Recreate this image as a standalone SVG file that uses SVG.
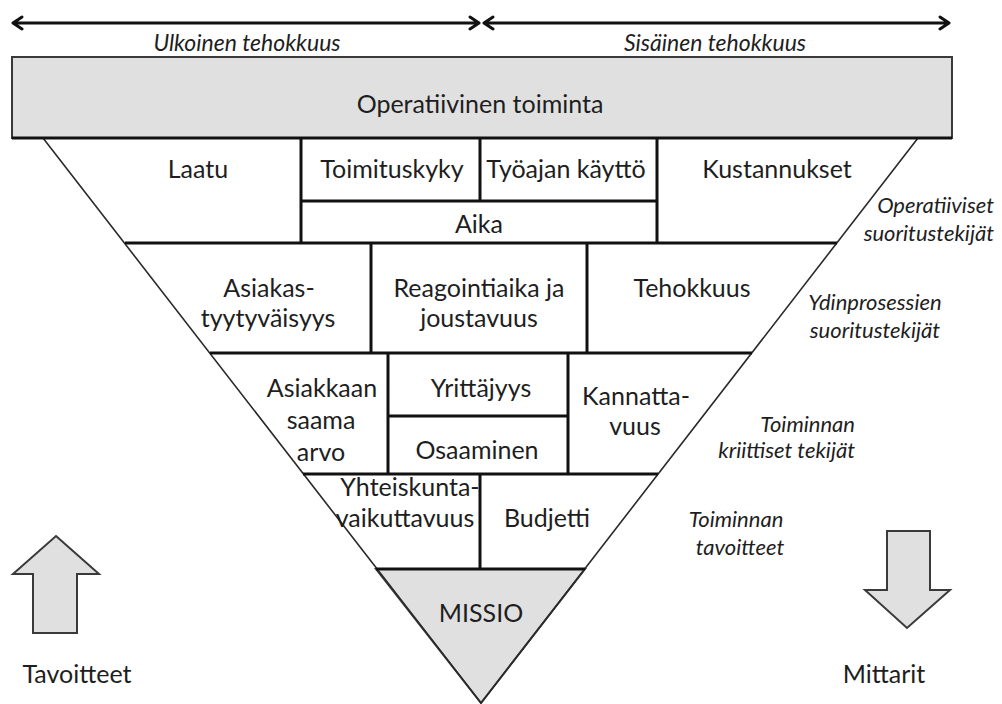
<svg xmlns="http://www.w3.org/2000/svg" width="1002" height="704" viewBox="0 0 1002 704">
  <style>
    .t { font-family: Lato, "Open Sans", "Liberation Sans", sans-serif; font-size: 25px; fill: #1e1e1e; text-anchor: middle; }
    .i { font-family: Lato, "Open Sans", "Liberation Sans", sans-serif; font-size: 22px; font-style: italic; fill: #1e1e1e; }
    .top { font-size: 23px; }
    .mid { text-anchor: middle; }
    .end { text-anchor: end; }
    .edge { stroke: #2a2a2a; stroke-width: 1.6; fill: none; }
    .rule { stroke: #111; stroke-width: 3; fill: none; }
    .gray { fill: #e0e0e0; stroke: #3a3a3a; stroke-width: 2; }
    .dbl { stroke: #111; stroke-width: 3; fill: none; stroke-linecap: round; stroke-linejoin: round; }
  </style>

  <rect width="1002" height="704" fill="#fff"/>

  <!-- span arrows above the banner -->
  <g id="connectors">
    <path class="dbl" d="M13,23 H479 M22,17 L13,23 L22,29 M470,17 L479,23 L470,29"/>
    <path class="dbl" d="M484,23 H949 M493,17 L484,23 L493,29 M940,17 L949,23 L940,29"/>
  </g>
  <text class="i top mid" x="247" y="51">Ulkoinen tehokkuus</text>
  <text class="i top mid" x="715" y="51">Sisäinen tehokkuus</text>

  <!-- banner -->
  <g id="operatiivinen-toiminta">
    <rect class="gray" x="12" y="57" width="940" height="81"/>
    <text class="t" x="480" y="113">Operatiivinen toiminta</text>
  </g>

  <!-- mission tip -->
  <g id="missio">
    <polygon class="gray" stroke-width="1.6" points="376,569 585,569 481,703"/>
    <text class="t" x="481" y="622">MISSIO</text>
  </g>

  <!-- funnel outline and cell rules -->
  <g id="funnel">
    <path class="edge" d="M43,138 L481,703 L918,138"/>
    <path class="rule" d="M12,138 H952"/>
    <path class="rule" d="M125,243 H837 M210,353 H752 M303,474 H658 M376,569 H585"/>
    <path class="rule" d="M301,138 V243 M657,138 V243 M480,138 V201 M301,201 H657"/>
    <path class="rule" d="M371,243 V353 M587,243 V353"/>
    <path class="rule" d="M388,353 V474 M568,353 V474 M388,416 H568"/>
    <path class="rule" d="M480,474 V569"/>
  </g>

  <!-- row 1: operational performance factors -->
  <g id="laatu"><text class="t" x="198" y="178">Laatu</text></g>
  <g id="toimituskyky"><text class="t" x="392" y="178">Toimituskyky</text></g>
  <g id="tyoajan-kaytto"><text class="t" x="566" y="178">Työajan käyttö</text></g>
  <g id="kustannukset"><text class="t" x="777" y="178">Kustannukset</text></g>
  <g id="aika"><text class="t" x="479" y="233">Aika</text></g>

  <!-- row 2: core process factors -->
  <g id="asiakastyytyvaisyys">
    <text class="t" x="269" y="297">Asiakas-</text>
    <text class="t" x="268" y="327">tyytyväisyys</text>
  </g>
  <g id="reagointiaika">
    <text class="t" x="479" y="297">Reagointiaika ja</text>
    <text class="t" x="479" y="327">joustavuus</text>
  </g>
  <g id="tehokkuus"><text class="t" x="692" y="297">Tehokkuus</text></g>

  <!-- row 3: critical factors -->
  <g id="asiakkaan-saama-arvo">
    <text class="t" x="322" y="397">Asiakkaan</text>
    <text class="t" x="321" y="429">saama</text>
    <text class="t" x="321" y="461">arvo</text>
  </g>
  <g id="yrittajyys"><text class="t" x="481" y="397">Yrittäjyys</text></g>
  <g id="osaaminen"><text class="t" x="477" y="459">Osaaminen</text></g>
  <g id="kannattavuus">
    <text class="t" x="636" y="405">Kannatta-</text>
    <text class="t" x="635" y="435">vuus</text>
  </g>

  <!-- row 4: objectives -->
  <g id="yhteiskuntavaikuttavuus">
    <text class="t" x="410" y="496">Yhteiskunta-</text>
    <text class="t" x="405" y="527">vaikuttavuus</text>
  </g>
  <g id="budjetti"><text class="t" x="547" y="527">Budjetti</text></g>

  <!-- level captions on the right -->
  <g id="caption-operatiiviset">
    <text class="i end" x="994" y="213">Operatiiviset</text>
    <text class="i end" x="994" y="241">suoritustekijät</text>
  </g>
  <g id="caption-ydinprosessit">
    <text class="i mid" x="875" y="310">Ydinprosessien</text>
    <text class="i mid" x="875" y="338">suoritustekijät</text>
  </g>
  <g id="caption-kriittiset">
    <text class="i end" x="855" y="432">Toiminnan</text>
    <text class="i end" x="855" y="458">kriittiset tekijät</text>
  </g>
  <g id="caption-tavoitteet">
    <text class="i mid" x="736" y="527">Toiminnan</text>
    <text class="i mid" x="740" y="555">tavoitteet</text>
  </g>

  <!-- direction arrows -->
  <g id="tavoitteet">
    <polygon class="gray" stroke-width="1.6" points="56,536 99,574 77,574 77,633 33,633 33,574 13,574"/>
    <text class="t" x="77" y="683">Tavoitteet</text>
  </g>
  <g id="mittarit">
    <polygon class="gray" stroke-width="1.6" points="887,531 930,531 930,590 950,590 907,628 865,590 887,590"/>
    <text class="t" x="884" y="683">Mittarit</text>
  </g>
</svg>
